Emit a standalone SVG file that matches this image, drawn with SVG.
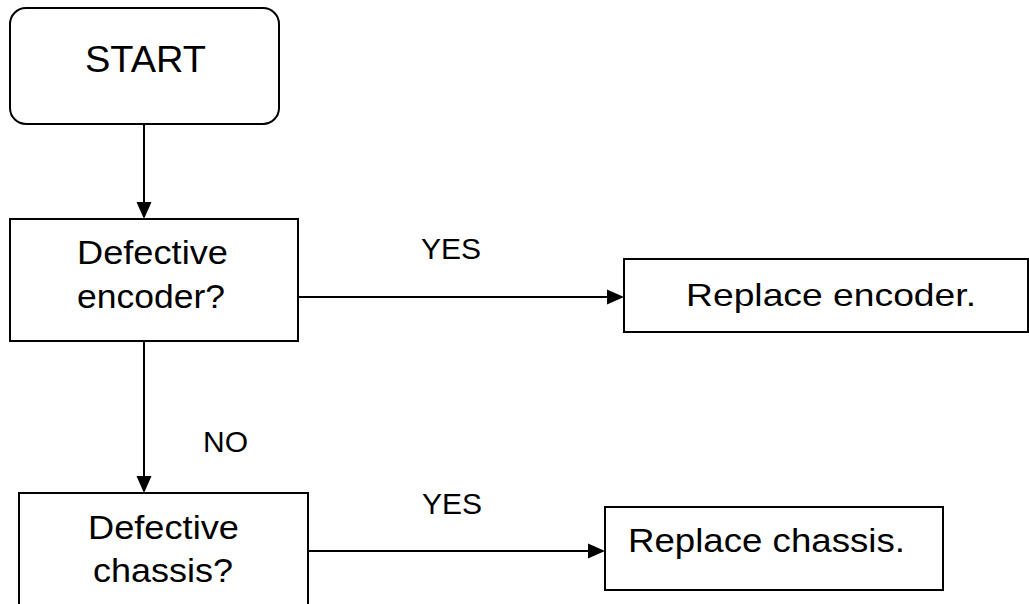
<svg xmlns="http://www.w3.org/2000/svg" width="1029" height="604" viewBox="0 0 1029 604">
<style>
.box{fill:#fff;stroke:#000;stroke-width:2}
.t{font-family:"Liberation Sans",Arial,sans-serif;fill:#000}
.conn{stroke:#000;stroke-width:2;fill:none}
</style>
<defs>
<marker id="ah" markerUnits="userSpaceOnUse" markerWidth="18" markerHeight="18" refX="15" refY="8" orient="auto">
<path d="M0,0.5 L17,8 L0,15.5 Z" fill="#000"/>
</marker>
</defs>
<rect width="1029" height="604" fill="#fff"/>
<g id="connectors">
<line class="conn" x1="144" y1="124" x2="144" y2="217" marker-end="url(#ah)"/>
<line class="conn" x1="298" y1="297" x2="622" y2="297" marker-end="url(#ah)"/>
<line class="conn" x1="144" y1="341" x2="144" y2="491" marker-end="url(#ah)"/>
<line class="conn" x1="308" y1="551" x2="603" y2="551" marker-end="url(#ah)"/>
<text class="t" x="421" y="259" font-size="30">YES</text>
<text class="t" x="203" y="452" font-size="30">NO</text>
<text class="t" x="422" y="514" font-size="30">YES</text>
</g>
<g id="start">
<rect class="box" x="10" y="8" width="269" height="116" rx="16" ry="16"/>
<text class="t" x="85" y="72" font-size="37" textLength="121" lengthAdjust="spacingAndGlyphs">START</text>
</g>
<g id="encoder-q">
<rect class="box" x="10" y="219" width="288" height="122"/>
<text class="t" x="77" y="264" font-size="34" textLength="151" lengthAdjust="spacingAndGlyphs">Defective</text>
<text class="t" x="77" y="308" font-size="34" textLength="148" lengthAdjust="spacingAndGlyphs">encoder?</text>
</g>
<g id="replace-encoder">
<rect class="box" x="624" y="259" width="404" height="73"/>
<text class="t" x="686" y="306" font-size="32" textLength="290" lengthAdjust="spacingAndGlyphs">Replace encoder.</text>
</g>
<g id="chassis-q">
<rect class="box" x="19" y="493" width="289" height="125"/>
<text class="t" x="88" y="539" font-size="34" textLength="151" lengthAdjust="spacingAndGlyphs">Defective</text>
<text class="t" x="93" y="582" font-size="34" textLength="140" lengthAdjust="spacingAndGlyphs">chassis?</text>
</g>
<g id="replace-chassis">
<rect class="box" x="605" y="507" width="338" height="83"/>
<text class="t" x="628" y="552" font-size="34" textLength="277" lengthAdjust="spacingAndGlyphs">Replace chassis.</text>
</g>
</svg>
